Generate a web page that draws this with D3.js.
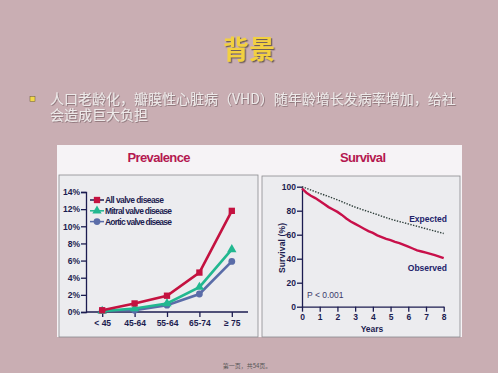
<!DOCTYPE html>
<html><head><meta charset="utf-8">
<script src="https://cdn.jsdelivr.net/npm/d3@7"></script>
<style>
html,body{margin:0;padding:0;background:#c9aeb3;}
svg{display:block;}
</style></head><body>
<svg id="c" width="498" height="373"></svg>
<script>
// ---- data ----
const ageGroups = ["< 45", "45-64", "55-64", "65-74", "\u2265 75"];
const allValve = [0.2, 1.0, 1.9, 4.6, 11.8];
const mitralValve = [0.1, 0.4, 1.0, 2.9, 7.3];
const aorticValve = [0.2, 0.2, 0.8, 2.1, 5.9];
const prevalenceTicks = [0, 2, 4, 6, 8, 10, 12, 14];
const seriesNames = ["All valve disease", "Mitral valve disease", "Aortic valve disease"];

const obsYears = [0, 0.25, 0.5, 0.75, 1, 1.25, 1.5, 1.75, 2, 2.25, 2.5, 2.75, 3, 3.25, 3.5, 3.75, 4, 4.25, 4.5, 4.75, 5, 5.25, 5.5, 5.75, 6, 6.25, 6.5, 6.75, 7, 7.25, 7.5, 7.75, 8];
const observed = [98.5, 95, 92.5, 90.5, 88, 85.5, 83, 81, 79, 76.5, 73.5, 71, 69, 67, 65, 63, 61.5, 59.5, 58, 56.5, 55.5, 54, 53, 51.5, 50, 48.5, 47, 46, 45, 44, 43, 41.8, 40.5];
const expYears = [0, 1, 2, 3, 4, 5, 6, 7, 8];
const expected = [100, 94.5, 89, 83, 78, 73, 69, 65, 61];
const survivalTicks = [0, 20, 40, 60, 80, 100];
const yearTicks = [0, 1, 2, 3, 4, 5, 6, 7, 8];

const svg = d3.select("#c");
const defs = svg.append("defs");
const f1 = defs.append("filter").attr("id", "sh").attr("x", "-10%").attr("y", "-30%").attr("width", "130%").attr("height", "160%");
f1.append("feDropShadow").attr("dx", 1.3).attr("dy", 1.3).attr("stdDeviation", 0.4).attr("flood-color", "#4a3a30").attr("flood-opacity", 0.7);
const f2 = defs.append("filter").attr("id", "sh2").attr("x", "-5%").attr("y", "-30%").attr("width", "110%").attr("height", "160%");
f2.append("feDropShadow").attr("dx", 0.8).attr("dy", 0.8).attr("stdDeviation", 0.3).attr("flood-color", "#6b5558").attr("flood-opacity", 0.7);

// ---- slide text ----
svg.append("text").attr("x", 249).attr("y", 59).attr("text-anchor", "middle")
  .attr("font-family", "Noto Sans CJK SC").attr("font-weight", "bold").attr("font-size", 26)
  .attr("fill", "#f2d040").attr("filter", "url(#sh)").text("背景");

svg.append("rect").attr("x", 30).attr("y", 96.5).attr("width", 5).attr("height", 5).attr("fill", "#f2d84a")
  .attr("stroke", "#6a5a30").attr("stroke-width", 0.5);
const bulletLines = ["人口老龄化，瓣膜性心脏病（VHD）随年龄增长发病率增加，给社", "会造成巨大负担"];
const bt = svg.append("text").attr("font-family", "Noto Sans CJK SC")
  .attr("font-size", 14).attr("fill", "#eeeaea").attr("filter", "url(#sh2)");
bulletLines.forEach((t, i) => {
  bt.append("tspan").attr("x", 50).attr("y", 104 + i * 16).text(t);
});
svg.append("text").attr("x", 247).attr("y", 368).attr("text-anchor", "middle")
  .attr("font-family", "Noto Sans CJK SC").attr("font-size", 6).attr("fill", "#555").text("第一页，共54页。");

// ---- panel ----
svg.append("rect").attr("x", 57).attr("y", 145).attr("width", 405).attr("height", 192).attr("fill", "#f6f3f6");
svg.append("rect").attr("x", 59).attr("y", 175).attr("width", 199).attr("height", 162).attr("fill", "#ececef")
  .attr("stroke", "#8a8a8e").attr("stroke-width", 0.8);
svg.append("rect").attr("x", 262).attr("y", 176).attr("width", 198).attr("height", 161).attr("fill", "#ececef")
  .attr("stroke", "#8a8a8e").attr("stroke-width", 0.8);

const F = "Liberation Sans, Arial, sans-serif";
const navy = "#1c1c50";
svg.append("text").attr("x", 159).attr("y", 162).attr("text-anchor", "middle").attr("font-family", F)
  .attr("font-weight", "bold").attr("font-size", 13).attr("textLength", 63).attr("fill", "#b41850").text("Prevalence");
svg.append("text").attr("x", 363).attr("y", 162).attr("text-anchor", "middle").attr("font-family", F)
  .attr("font-weight", "bold").attr("font-size", 13).attr("textLength", 46).attr("fill", "#b41850").text("Survival");

// ---- prevalence chart ----
const xP = d3.scalePoint().domain(ageGroups).range([86, 248]).padding(0.5);
const yP = d3.scaleLinear().domain([0, 14]).range([312, 192]);

const gy = svg.append("g").attr("transform", "translate(86,0)")
  .call(d3.axisLeft(yP).tickValues(prevalenceTicks).tickFormat(d => d + "%").tickSize(5).tickPadding(1));
const gx = svg.append("g").attr("transform", "translate(0,312)")
  .call(d3.axisBottom(xP).tickSize(5).tickPadding(3).tickSizeOuter(0));
gx.select(".domain").attr("d", "M86,0H248");
[gy, gx].forEach(g => {
  g.selectAll("path,line").attr("stroke", navy).attr("stroke-width", 1.3);
  g.selectAll("text").attr("font-family", F).attr("font-weight", "bold").attr("font-size", 8.5).attr("fill", navy);
});

const cols = ["#c41240", "#22b890", "#5a6ca8"];
const series = [allValve, mitralValve, aorticValve];
const sym = [d3.symbolSquare, d3.symbolTriangle, d3.symbolCircle];
const symSize = [40, 38, 36];
const lineP = d3.line().x((d, i) => xP(ageGroups[i])).y(d => yP(d));
[2, 1, 0].forEach(k => {
  svg.append("path").datum(series[k]).attr("d", lineP).attr("fill", "none")
    .attr("stroke", cols[k]).attr("stroke-width", 2.6);
  svg.selectAll(null).data(series[k]).enter().append("path")
    .attr("d", d3.symbol().type(sym[k]).size(symSize[k]))
    .attr("transform", (d, i) => `translate(${xP(ageGroups[i])},${yP(d)})`)
    .attr("fill", cols[k]);
});

// legend
seriesNames.forEach((n, k) => {
  const y = 200 + k * 10.8;
  svg.append("line").attr("x1", 90).attr("x2", 104).attr("y1", y).attr("y2", y)
    .attr("stroke", k === 0 ? navy : cols[k]).attr("stroke-width", 1.5);
  svg.append("path").attr("d", d3.symbol().type(sym[k]).size(symSize[k]))
    .attr("transform", `translate(97,${y})`).attr("fill", cols[k]);
  svg.append("text").attr("x", 105).attr("y", y + 3).attr("font-family", F).attr("font-weight", "bold")
    .attr("font-size", 8.5).attr("fill", navy).attr("textLength", [59, 67, 67][k]).text(n);
});

// ---- survival chart ----
const xS = d3.scaleLinear().domain([0, 8]).range([302, 443.7]);
const yS = d3.scaleLinear().domain([0, 100]).range([306.7, 186.7]);
const sy = svg.append("g").attr("transform", "translate(302,0)")
  .call(d3.axisLeft(yS).tickValues(survivalTicks).tickSize(5).tickPadding(1).tickSizeOuter(0));
const sx = svg.append("g").attr("transform", "translate(0,306.7)")
  .call(d3.axisBottom(xS).tickValues(yearTicks).tickSize(5).tickPadding(2).tickSizeOuter(0));
[sy, sx].forEach(g => {
  g.selectAll("path,line").attr("stroke", navy).attr("stroke-width", 1.3);
  g.selectAll("text").attr("font-family", F).attr("font-weight", "bold").attr("font-size", 8.5).attr("fill", navy);
});
svg.append("text").attr("x", 372).attr("y", 332).attr("text-anchor", "middle").attr("font-family", F)
  .attr("font-weight", "bold").attr("font-size", 8.5).attr("fill", navy).text("Years");
svg.append("text").attr("transform", "translate(285,248) rotate(-90)").attr("text-anchor", "middle")
  .attr("font-family", F).attr("font-weight", "bold").attr("font-size", 8.5).attr("fill", navy)
  .attr("textLength", 50).text("Survival  (%)");

svg.append("path").datum(expected).attr("fill", "none").attr("stroke", "#2e3e3a").attr("stroke-width", 1.4)
  .attr("stroke-dasharray", "1.4,1.4")
  .attr("d", d3.line().x((d, i) => xS(expYears[i])).y(d => yS(d)).curve(d3.curveMonotoneX));
svg.append("path").datum(observed).attr("fill", "none").attr("stroke", "#c8104a").attr("stroke-width", 2.4)
  .attr("d", d3.line().x((d, i) => xS(obsYears[i])).y(d => yS(d)));

svg.append("text").attr("x", 447).attr("y", 222).attr("text-anchor", "end").attr("font-family", F)
  .attr("font-weight", "bold").attr("font-size", 8.5).attr("fill", "#22226a").text("Expected");
svg.append("text").attr("x", 447).attr("y", 271).attr("text-anchor", "end").attr("font-family", F)
  .attr("font-weight", "bold").attr("font-size", 8.5).attr("fill", "#22226a").text("Observed");
svg.append("text").attr("x", 307).attr("y", 298).attr("font-family", F)
  .attr("font-size", 8.5).attr("fill", "#3a3a6a").text("P < 0.001");
</script>
</body></html>
